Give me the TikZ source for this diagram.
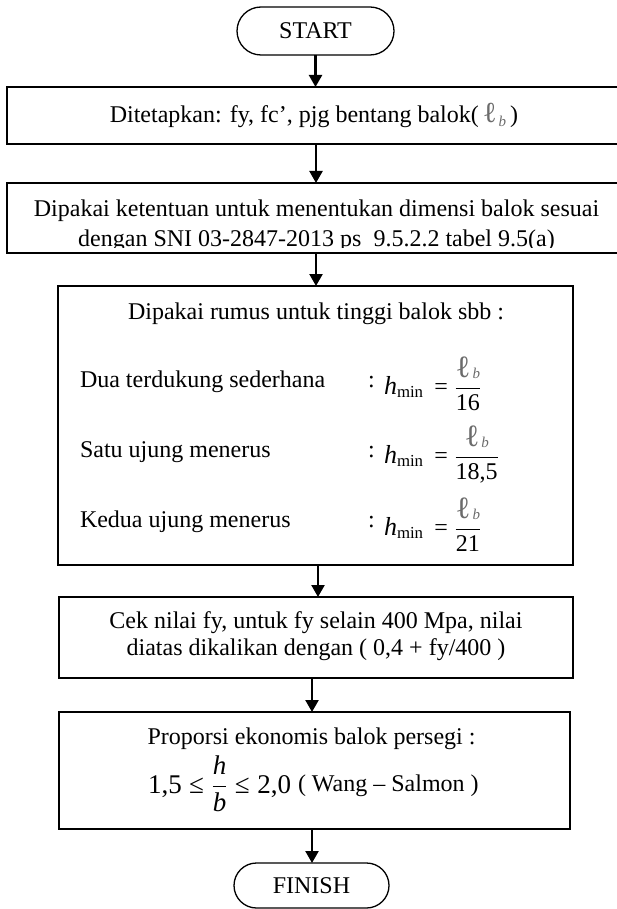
\RequirePackage{fix-cm}
\documentclass[tikz,border=0pt]{standalone}
\usepackage{amsmath}
\usepackage{graphicx}
\usepackage{fontspec}
\setmainfont{Liberation Serif}
\usetikzlibrary{arrows.meta,shapes.misc}
\definecolor{ellgray}{rgb}{0.42,0.42,0.42}
\newcommand{\ellb}{{\color{ellgray}{\fontsize{29}{29}\selectfont ℓ}\kern2pt\raisebox{-4pt}{\fontsize{15}{15}\selectfont\itshape b}}}
\newcommand{\ellbig}{{\color{ellgray}{\fontsize{31}{31}\selectfont ℓ}\kern2pt\raisebox{-1pt}{\fontsize{15}{15}\selectfont\itshape b}}}
\newcommand{\hmn}{\text{\fontsize{26}{26}\selectfont\itshape h}_{\text{min}}\,}
\newcommand{\teq}{\mathrel{\text{=}}}
\newcommand{\tle}{\mathrel{\text{≤}}}
\begin{document}
\begin{tikzpicture}[x=1pt,y=-1pt,
  every node/.style={font=\fontsize{24}{28}\selectfont, inner sep=0pt, outer sep=0pt},
  boxstyle/.style={draw, line width=1.8pt, rectangle},
  pill/.style={draw, line width=1.3pt, rounded rectangle},
  arr/.style={line width=2.3pt, -{Triangle[length=12pt,width=13pt]}},
  txt/.style={anchor=base},
  ltxt/.style={anchor=base west}]
\useasboundingbox (0,0) rectangle (616,909);

% shapes
\node[pill, minimum width=157pt, minimum height=48pt] (start) at (315.5,31) {START};
\node[boxstyle, minimum width=615pt, minimum height=57pt] (b1) at (314.5,115.5) {};
\node[boxstyle, minimum width=615pt, minimum height=70pt] (b2) at (314.5,218) {};
\node[boxstyle, minimum width=515pt, minimum height=279pt] (b3) at (315.5,425.5) {};
\node[boxstyle, minimum width=514pt, minimum height=81pt] (b4) at (316,637.5) {};
\node[boxstyle, minimum width=511pt, minimum height=117pt] (b5) at (314.5,770.5) {};
\node[pill, minimum width=155pt, minimum height=45pt] (finish) at (311.5,885.5) {FINISH};

% texts
\node[txt] (t1) at (314,123) {Ditetapkan: fy, fc’, pjg bentang balok(\,\ellb\,)};
\begin{scope}
\clip (8,184) rectangle (616,247.8);
\node[txt] (t2a) at (316.5,217) {Dipakai ketentuan untuk menentukan dimensi balok sesuai};
\node[txt] (t2b) at (316.5,247) {dengan SNI 03-2847-2013 ps\ \ 9.5.2.2 tabel 9.5(a)};
\end{scope}

\node[txt] (t3) at (316,319) {Dipakai rumus untuk tinggi balok sbb :};
\node[ltxt] (r1) at (80,387) {Dua terdukung sederhana};
\node[ltxt] (r2) at (80,457) {Satu ujung menerus};
\node[ltxt] (r3) at (80,527) {Kedua ujung menerus};
\node[ltxt] (c1) at (368,387) {:};
\node[ltxt] (c2) at (368,457) {:};
\node[ltxt] (c3) at (368,527) {:};
\node[ltxt] (e1) at (384,394) {$\hmn\teq\dfrac{\text{\ellbig}}{\text{16}}$};
\node[ltxt] (e2) at (384,463) {$\hmn\teq\dfrac{\text{\ellbig}}{\text{18,5}}$};
\node[ltxt] (e3) at (384,535) {$\hmn\teq\dfrac{\text{\ellbig}}{\text{21}}$};

\node[txt] (t4a) at (316,628) {Cek nilai fy, untuk fy selain 400 Mpa, nilai};
\node[txt] (t4b) at (316,655) {diatas dikalikan dengan ( 0,4 + fy/400 )};

\node[txt] (t5a) at (311.5,744) {Proporsi ekonomis balok persegi :};
\node[ltxt, font=\fontsize{27}{32}\selectfont] (f5) at (148,793) {$\text{1,5}\tle\dfrac{\text{\itshape h}}{\text{\itshape b}}\tle\text{2,0}$};
\node[ltxt] (t5b) at (298,791) {( Wang – Salmon )};

% connectors
\draw[arr] (start.south) -- (start.south |- b1.north);
\draw[arr] ([xshift=1.5pt]b1.south) -- ([xshift=1.5pt]b1.south |- b2.north);
\draw[arr] ([xshift=1.5pt]b2.south) -- ([xshift=1.5pt]b2.south |- b3.north);
\draw[arr] ([xshift=2.5pt]b3.south) -- ([xshift=2.5pt]b3.south |- b4.north);
\draw[arr] ([xshift=-4pt]b4.south) -- ([xshift=-4pt]b4.south |- b5.north);
\draw[arr] ([xshift=-2.5pt]b5.south) -- ([xshift=-2.5pt]b5.south |- finish.north);
\end{tikzpicture}
\end{document}
